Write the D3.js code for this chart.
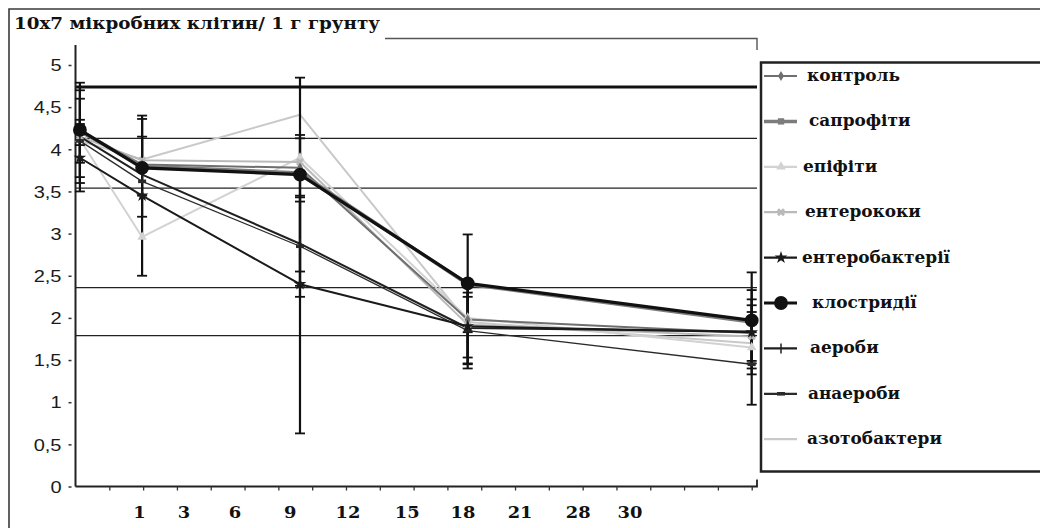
<!DOCTYPE html>
<html>
<head>
<meta charset="utf-8">
<script src="https://cdn.jsdelivr.net/npm/d3@7"></script>
<style>
  body { margin: 0; background: #fff; }
  svg { display: block; }
  .serif { font-family: "DejaVu Serif", "Liberation Serif", serif; font-weight: bold; }
  .sans { font-family: "Liberation Sans", Arial, sans-serif; }
</style>
</head>
<body>
<svg width="1040" height="528"></svg>
<script>
// ---- data ----
var title = "10x7 мікробних клітин/ 1 г грунту";

// positions of the five sampling points on the category axis (in tick slots)
var pointSlots = [0.13, 1.97, 6.64, 11.6, 20];

var seriesNames = ["контроль", "сапрофіти", "епіфіти", "ентерококи", "ентеробактерії",
                   "клостридії", "аероби", "анаероби", "азотобактери"];

var kontrol        = [4.20, 3.82, 3.78, 1.98, 1.82];
var saprofity      = [4.22, 3.80, 3.72, 2.40, 1.95];
var epifity        = [4.12, 2.96, 3.90, 2.00, 1.65];
var enterokoky     = [4.15, 3.87, 3.85, 1.92, 1.78];
var enterobakterii = [3.90, 3.45, 2.40, 1.90, 1.83];
var klostrydii     = [4.23, 3.78, 3.70, 2.41, 1.97];
var aeroby         = [4.15, 3.70, 2.88, 1.88, 1.84];
var anaeroby       = [4.10, 3.62, 2.85, 1.85, 1.45];
var azotobaktery   = [4.10, 3.88, 4.41, 1.95, 1.70];

// +/- error for each point
var errKontrol        = [0.15, 0, 0.35, 0.45, 0.33];
var errSaprofity      = [0.38, 0.35, 0, 0, 0.12];
var errEpifity        = [0, 0, 0, 0, 0];
var errEnterokoky     = [0, 0, 0, 0, 0];
var errEnterobakterii = [0.40, 0.95, 1.77, 0.50, 0.50];
var errKlostrydii     = [0.56, 0.58, 1.15, 0.58, 0.57];
var errAeroby         = [0.55, 0, 0.50, 0.42, 0.38];
var errAnaeroby       = [0, 0, 0.60, 0.40, 0.48];
var errAzotobaktery   = [0, 0, 0, 0, 0];

// horizontal lines crossing the plot
var refLines = [4.74, 4.13, 3.54, 2.36, 1.79];

var yTicks = [0, 0.5, 1, 1.5, 2, 2.5, 3, 3.5, 4, 4.5, 5];
var xTickSlots = d3.range(1, 21);
var xLabels = ["1", "3", "6", "9", "12", "15", "18", "21", "28", "30"];
var xLabelSlots = [1.89, 3.21, 4.72, 6.35, 8.06, 9.81, 11.46, 13.15, 14.87, 16.4];

var values = [kontrol, saprofity, epifity, enterokoky, enterobakterii,
              klostrydii, aeroby, anaeroby, azotobaktery];
var errors = [errKontrol, errSaprofity, errEpifity, errEnterokoky, errEnterobakterii,
              errKlostrydii, errAeroby, errAnaeroby, errAzotobaktery];

// look of each series: stroke, width, marker
var styles = [
  { color: "#6f6f6f", w: 2,   marker: "diamond",  size: 30 },
  { color: "#7c7c7c", w: 3.5, marker: "square",   size: 40 },
  { color: "#d2d2d2", w: 2,   marker: "triangle", size: 40 },
  { color: "#b9b9b9", w: 2,   marker: "times",    size: 40 },
  { color: "#1a1a1a", w: 2,   marker: "star",     size: 50 },
  { color: "#111111", w: 3.2, marker: "circle",   size: 150 },
  { color: "#202020", w: 2,   marker: "vtick",    size: 0 },
  { color: "#2a2a2a", w: 1.3, marker: "dash",     size: 0 },
  { color: "#c9c9c9", w: 2,   marker: "none",     size: 0 }
];

var svg = d3.select("svg");

// the scan is stretched sideways: widen text by a factor
function stretch(sel, k) {
  sel.each(function () {
    var w = this.getComputedTextLength();
    this.setAttribute("textLength", w * k);
    this.setAttribute("lengthAdjust", "spacingAndGlyphs");
  });
}

var x = d3.scaleLinear().domain([0, 20]).range([75.5, 751.7]);
var y = d3.scaleLinear().domain([0, 5]).range([486.5, 65]);
var plotRight = 757;

// outer frame
svg.append("path")
  .attr("d", "M9,528 V9 H1040")
  .attr("fill", "none").attr("stroke", "#3a3a3a").attr("stroke-width", 1.6);

// title, fitted to its width in the scan
var t = svg.append("text")
  .attr("class", "serif")
  .attr("x", 14).attr("y", 29)
  .attr("font-size", 17).attr("fill", "#111")
  .text(title);
t.attr("textLength", 366).attr("lengthAdjust", "spacingAndGlyphs");

// plot area top/right fragment
svg.append("path")
  .attr("d", "M385,38.5 H" + plotRight + " V50")
  .attr("fill", "none").attr("stroke", "#555").attr("stroke-width", 1.4);

// horizontal lines
svg.append("g").selectAll("line")
  .data(refLines).enter().append("line")
  .attr("x1", x(0)).attr("x2", plotRight)
  .attr("y1", d => y(d)).attr("y2", d => y(d))
  .attr("stroke", (d, i) => i === 0 ? "#111" : "#222")
  .attr("stroke-width", (d, i) => i === 0 ? 3 : 1.3);

// y axis
var yAxis = svg.append("g")
  .attr("transform", "translate(" + x(0) + ",0)")
  .call(d3.axisLeft(y).tickValues(yTicks).tickSize(3).tickPadding(11)
    .tickFormat(d => String(d).replace(".", ",")));
yAxis.select(".domain").attr("d", "M0,45 V" + y(0)).attr("stroke", "#222").attr("stroke-width", 2);
yAxis.selectAll(".tick line").attr("x1", -4).attr("x2", -7).attr("stroke", "#333").attr("stroke-width", 1.5);
yAxis.selectAll(".tick text")
  .attr("class", "sans")
  .attr("font-size", 16).attr("fill", "#1a1a1a")
  .attr("dy", "0.36em")
  .call(stretch, 1.25);

// x axis
var xAxis = svg.append("g")
  .attr("transform", "translate(0," + y(0) + ")")
  .call(d3.axisBottom(x).tickValues(xTickSlots).tickSize(4).tickFormat(""));
xAxis.select(".domain").attr("d", "M" + x(0) + ",0 H" + plotRight + " V-7").attr("stroke", "#222").attr("stroke-width", 1.8);
xAxis.selectAll(".tick line").attr("stroke", "#333").attr("stroke-width", 1.3);

svg.append("g").selectAll("text")
  .data(xLabels).enter().append("text")
  .attr("class", "serif")
  .attr("x", (d, i) => x(xLabelSlots[i]))
  .attr("y", 518)
  .attr("text-anchor", "middle")
  .attr("font-size", 17).attr("fill", "#111")
  .text(d => d)
  .call(stretch, 1.05);

// series lines
var line = d3.line()
  .x((d, i) => x(pointSlots[i]))
  .y(d => y(d));

var order = [8, 2, 3, 0, 7, 6, 4, 1, 5];
svg.append("g").selectAll("path")
  .data(order).enter().append("path")
  .attr("d", k => line(values[k]))
  .attr("fill", "none")
  .attr("stroke", k => styles[k].color)
  .attr("stroke-width", k => styles[k].w)
  .attr("stroke-linejoin", "round");

// error bars
var bars = [];
values.forEach(function (vals, k) {
  vals.forEach(function (v, i) {
    if (errors[k][i] > 0) bars.push({ x: x(pointSlots[i]), lo: v - errors[k][i], hi: v + errors[k][i] });
  });
});
var eb = svg.append("g").attr("stroke", "#111");
eb.selectAll("line.v").data(bars).enter().append("line")
  .attr("class", "v")
  .attr("x1", d => d.x).attr("x2", d => d.x)
  .attr("y1", d => y(d.hi)).attr("y2", d => y(d.lo))
  .attr("stroke-width", 2.2);
eb.selectAll("line.hi").data(bars).enter().append("line")
  .attr("x1", d => d.x - 5).attr("x2", d => d.x + 5)
  .attr("y1", d => y(d.hi)).attr("y2", d => y(d.hi))
  .attr("stroke-width", 1.8);
eb.selectAll("line.lo").data(bars).enter().append("line")
  .attr("x1", d => d.x - 5).attr("x2", d => d.x + 5)
  .attr("y1", d => y(d.lo)).attr("y2", d => y(d.lo))
  .attr("stroke-width", 1.8);

// markers
var symbolTypes = {
  diamond: d3.symbolDiamond, square: d3.symbolSquare, triangle: d3.symbolTriangle,
  times: d3.symbolCross, star: d3.symbolStar, circle: d3.symbolCircle
};
function drawMarker(g, st, cx, cy) {
  if (st.marker === "none") return;
  if (st.marker === "vtick") {
    g.append("line").attr("x1", cx).attr("x2", cx).attr("y1", cy - 5).attr("y2", cy + 5)
      .attr("stroke", st.color).attr("stroke-width", 1.5);
    return;
  }
  if (st.marker === "dash") {
    g.append("rect").attr("x", cx - 4).attr("y", cy - 1.8).attr("width", 8).attr("height", 3.6)
      .attr("fill", st.color);
    return;
  }
  g.append("path")
    .attr("d", d3.symbol().type(symbolTypes[st.marker]).size(st.size)())
    .attr("transform", "translate(" + cx + "," + cy + ")" + (st.marker === "times" ? " rotate(45)" : ""))
    .attr("fill", st.color);
}
var mk = svg.append("g");
order.forEach(function (k) {
  values[k].forEach(function (v, i) {
    drawMarker(mk, styles[k], x(pointSlots[i]), y(v));
  });
});

// legend
var legend = svg.append("g");
legend.append("rect")
  .attr("x", 761).attr("y", 62.5).attr("width", 300).attr("height", 409)
  .attr("fill", "#fff").attr("stroke", "#222").attr("stroke-width", 2.5);

var legendOffsets = [0, 2, -4, -2, -5, 5, 3, 1, 0];
var labels = [];
seriesNames.forEach(function (name, k) {
  var ly = 76 + k * 45.4;
  var st = styles[k];
  legend.append("line")
    .attr("x1", 764).attr("x2", 797).attr("y1", ly).attr("y2", ly)
    .attr("stroke", st.color).attr("stroke-width", Math.max(st.w, 2.2));
  drawMarker(legend, st, 781, ly);
  labels.push(legend.append("text")
    .attr("class", "serif")
    .attr("x", 807 + legendOffsets[k]).attr("y", ly + 5)
    .attr("font-size", 16).attr("fill", "#111")
    .text(name).node());
});
// scale all legend labels by one factor so the longest one fits its width in the scan
var longest = d3.max(labels, n => n.getComputedTextLength());
d3.selectAll(labels).call(stretch, 148 / longest);
</script>
</body>
</html>
